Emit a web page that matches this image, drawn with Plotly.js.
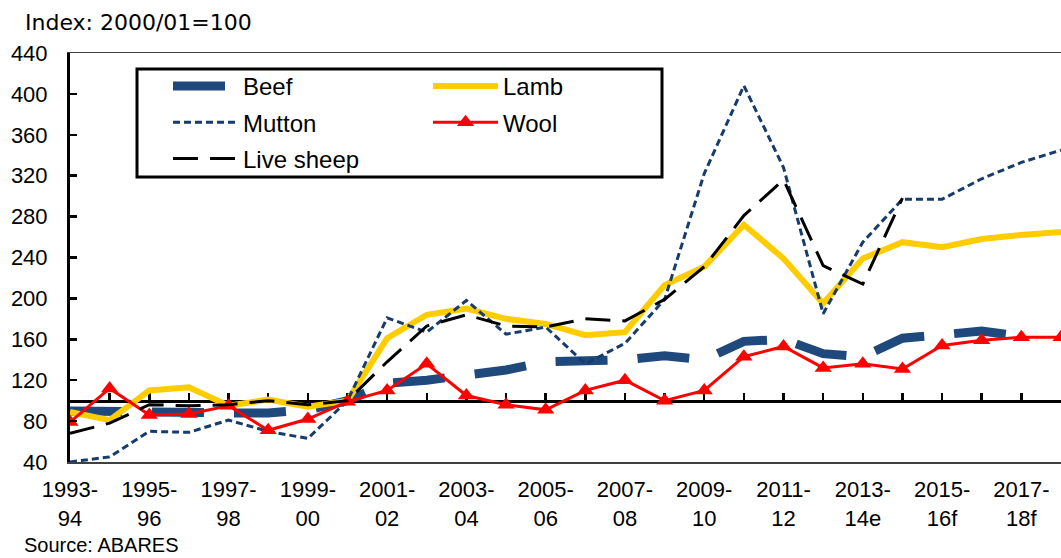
<!DOCTYPE html>
<html>
<head>
<meta charset="utf-8">
<script src="https://cdn.plot.ly/plotly-3.0.1.min.js"></script>
<style>html,body{margin:0;padding:0;background:#fff;}#chart{width:1061px;height:558px;}</style>
</head>
<body>
<div id="chart"></div>
<script>
// Categories (financial years)
const years = ['1993-94','1994-95','1995-96','1996-97','1997-98','1998-99','1999-00','2000-01','2001-02','2002-03',
  '2003-04','2004-05','2005-06','2006-07','2007-08','2008-09','2009-10','2010-11','2011-12','2012-13',
  '2013-14e','2014-15f','2015-16f','2016-17f','2017-18f','2018-19f'];

// Series values (Index: 2000/01 = 100)
const beef   = [90, 89, 88, 88, 88, 88, 91, 100, 117, 120, 125, 130, 138, 138, 140, 144, 140, 158, 160, 146, 143, 161, 164, 168, 163, null];
const lamb   = [89, 81, 110, 113, 95, 101, 94, 100, 161, 184, 190, 180, 175, 164, 167, 213, 231, 272, 239, 195, 239, 255, 250, 258, 262, 265];
const mutton = [40, 45, 70, 69, 81, 70, 63, 100, 181, 167, 198, 165, 172, 136, 156, 199, 322, 408, 328, 185, 255, 297, 297, 317, 333, 345];
const wool   = [79, 112, 86, 87, 95, 71, 82, 99, 110, 136, 105, 96, 91, 110, 120, 100, 110, 143, 153, 132, 136, 131, 154, 159, 162, 162];
const live   = [68, 78, 96, 95, 96, 100, 96, 100, 138, 173, 184, 173, 172, 180, 178, 199, 231, 281, 316, 232, 214, 298, null, null, null, null];

const seriesNames = ['Beef', 'Lamb', 'Mutton', 'Wool', 'Live sheep'];

// Tick labels: every second year, split over two lines
const tickIdx = years.map((y, i) => i).filter(i => i % 2 === 0 && i < years.length - 1);
const tickVals = tickIdx.map(i => years[i]);
const tickText = tickVals.map(y => y.replace('-', '-<br>'));

const FONT = 'Liberation Sans, Arial, sans-serif';

const traces = [
  {x: years, y: beef, name: seriesNames[0], type: 'scatter', mode: 'lines', legend: 'legend', legendgroup: 'g1',
   line: {color: '#1F497D', width: 9, dash: '52px,30px'}},
  {x: years, y: lamb, name: seriesNames[1], type: 'scatter', mode: 'lines', legend: 'legend2', legendgroup: 'g2',
   line: {color: '#FFCC00', width: 6}},
  {x: years, y: mutton, name: seriesNames[2], type: 'scatter', mode: 'lines', legend: 'legend', legendgroup: 'g3',
   line: {color: '#163C6B', width: 3, dash: '7px,4px'}},
  {x: years, y: wool, name: seriesNames[3], type: 'scatter', mode: 'lines+markers', legend: 'legend2', legendgroup: 'g4',
   line: {color: '#FF0000', width: 3}, marker: {symbol: 'triangle-up', size: 15, color: '#FF0000'}},
  {x: years, y: live, name: seriesNames[4], type: 'scatter', mode: 'lines', legend: 'legend', legendgroup: 'g5',
   line: {color: '#000000', width: 3, dash: '25px,12px'}},
  // helper trace so the reference axis at index = 100 is drawn
  {x: years, y: years.map(() => null), xaxis: 'x2', yaxis: 'y', type: 'scatter', mode: 'lines',
   showlegend: false, hoverinfo: 'skip'}
];

const layout = {
  width: 1061, height: 558,
  margin: {l: 70, r: 0, t: 53, b: 96, pad: 0, autoexpand: false},
  paper_bgcolor: '#ffffff', plot_bgcolor: '#ffffff',
  font: {family: FONT, size: 22, color: '#000000'},
  showlegend: true,
  title: {text: 'Index: 2000/01=100', xref: 'container', yref: 'container', x: 25/1061, xanchor: 'left',
          y: 1 - 22/558, yanchor: 'middle', font: {family: 'DejaVu Sans, Verdana, sans-serif', size: 22, color: '#000'}},
  xaxis: {type: 'category', range: [0, years.length - 1], tickmode: 'array', tickvals: tickVals, ticktext: tickText,
          tickangle: 0, automargin: false,
          ticks: '', showgrid: false, zeroline: false, showline: true, linecolor: '#404040', linewidth: 1.5, mirror: true,
          tickfont: {family: FONT, size: 22, color: '#000'}, ticklabelstandoff: 7, fixedrange: true},
  xaxis2: {type: 'category', overlaying: 'x', anchor: 'free', position: 0.15, side: 'bottom',
           range: [0, years.length - 1], tickmode: 'linear', dtick: 1, tick0: 0,
           ticks: 'inside', ticklen: 7, tickwidth: 2.5, tickcolor: '#000',
           showticklabels: false, showgrid: false, zeroline: false, showline: true, linecolor: '#000', linewidth: 3,
           layer: 'below traces'},
  yaxis: {range: [40, 440], tickmode: 'linear', tick0: 40, dtick: 40, ticks: 'inside', ticklen: 7, tickwidth: 2.5,
          automargin: false,
          tickcolor: '#000', showline: true, linecolor: '#000', linewidth: 3, showgrid: false, zeroline: false,
          tickfont: {family: FONT, size: 22, color: '#000'}, ticklabelstandoff: 15, fixedrange: true},
  legend: {xref: 'container', yref: 'container', x: 168/1061, y: 1 - 64/558, xanchor: 'left', yanchor: 'top',
           orientation: 'v', bgcolor: 'rgba(0,0,0,0)', borderwidth: 0, itemwidth: 65, tracegroupgap: 2,
           font: {family: FONT, size: 24, color: '#000'}},
  legend2: {xref: 'container', yref: 'container', x: 428/1061, y: 1 - 64/558, xanchor: 'left', yanchor: 'top',
            orientation: 'v', bgcolor: 'rgba(0,0,0,0)', borderwidth: 0, itemwidth: 65, tracegroupgap: 2,
            font: {family: FONT, size: 24, color: '#000'}},
  shapes: [
    {type: 'rect', xref: 'paper', yref: 'paper', x0: (137-70)/991, x1: (662-70)/991, y0: (462-177)/409, y1: (462-69)/409,
     line: {color: '#000', width: 3}, fillcolor: 'rgba(0,0,0,0)', layer: 'below'}
  ],
  annotations: [
    {text: 'Source: ABARES', xref: 'paper', yref: 'paper', x: (23-70)/991, y: (462-545)/409, xanchor: 'left', yanchor: 'middle',
     showarrow: false, borderpad: 0, font: {family: FONT, size: 20, color: '#000'}}
  ]
};

Plotly.newPlot('chart', traces, layout, {displayModeBar: false, staticPlot: true});
</script>
</body>
</html>
